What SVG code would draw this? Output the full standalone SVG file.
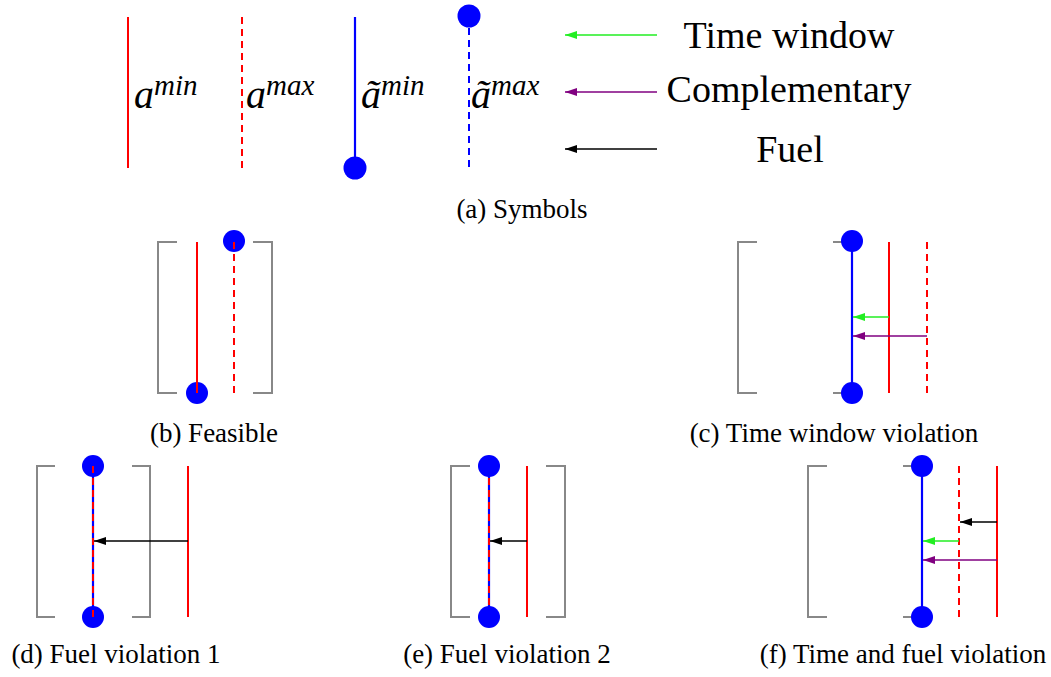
<svg xmlns="http://www.w3.org/2000/svg" width="1051" height="677" viewBox="0 0 1051 677">
<style>
.bg{fill:#fff}
.br{fill:none;stroke:#888;stroke-width:2}
.rs{stroke:#f00;stroke-width:2;fill:none}
.rd{stroke:#f00;stroke-width:2;stroke-dasharray:7 5;fill:none}
.bs{stroke:#00f;stroke-width:2.2;fill:none}
.bd{stroke:#00f;stroke-width:2;stroke-dasharray:7 5;fill:none}
.dot{fill:#00f}
.ag{stroke:#22ee22;stroke-width:1.4;marker-end:url(#mg)}
.ap{stroke:#800080;stroke-width:1.4;marker-end:url(#mp)}
.ak{stroke:#000;stroke-width:1.4;marker-end:url(#mk)}
</style>
<defs>
<marker id="mg" viewBox="0 0 12 8" markerUnits="userSpaceOnUse" markerWidth="12" markerHeight="8" refX="12" refY="4" orient="auto"><path d="M0,0 L12,4 L0,8 z" fill="#22ee22"/></marker>
<marker id="mp" viewBox="0 0 12 8" markerUnits="userSpaceOnUse" markerWidth="12" markerHeight="8" refX="12" refY="4" orient="auto"><path d="M0,0 L12,4 L0,8 z" fill="#800080"/></marker>
<marker id="mk" viewBox="0 0 12 8" markerUnits="userSpaceOnUse" markerWidth="12" markerHeight="8" refX="12" refY="4" orient="auto"><path d="M0,0 L12,4 L0,8 z" fill="#000"/></marker>
</defs>
<rect class="bg" x="0" y="0" width="1051" height="677"/>

<g id="panel-a">
  <g id="sym-amin">
    <line class="rs" x1="128" y1="17" x2="128" y2="168"/>
    <text x="134" y="108" font-family="Liberation Serif" font-style="italic" font-size="40">a<tspan font-size="29" dy="-13">min</tspan></text>
  </g>
  <g id="sym-amax">
    <line class="rd" x1="242" y1="17" x2="242" y2="168"/>
    <text x="246" y="108" font-family="Liberation Serif" font-style="italic" font-size="40">a<tspan font-size="29" dy="-13">max</tspan></text>
  </g>
  <g id="sym-atmin">
    <line class="bs" x1="355" y1="17" x2="355" y2="168"/>
    <circle class="dot" cx="355" cy="168" r="11.5"/>
    <text x="361" y="108" font-family="Liberation Serif" font-style="italic" font-size="40">ã<tspan font-size="29" dy="-13">min</tspan></text>
  </g>
  <g id="sym-atmax">
    <line class="bd" x1="469" y1="28" x2="469" y2="168"/>
    <circle class="dot" cx="469" cy="16" r="11.5"/>
    <text x="471" y="108" font-family="Liberation Serif" font-style="italic" font-size="40">ã<tspan font-size="29" dy="-13">max</tspan></text>
  </g>
  <g id="legend">
    <line class="ag" x1="657" y1="35" x2="565" y2="35"/>
    <text x="789" y="48" font-family="Liberation Serif" font-size="38" text-anchor="middle">Time window</text>
    <line class="ap" x1="657" y1="92" x2="565" y2="92"/>
    <text x="789" y="102" font-family="Liberation Serif" font-size="38" text-anchor="middle">Complementary</text>
    <line class="ak" x1="657" y1="149" x2="565" y2="149"/>
    <text x="790" y="162" font-family="Liberation Serif" font-size="38" text-anchor="middle">Fuel</text>
  </g>
  <text x="522" y="218" font-family="Liberation Serif" font-size="27" text-anchor="middle">(a) Symbols</text>
</g>

<g id="panel-b">
  <path class="br" d="M177,242 H158 V393 H177"/>
  <path class="br" d="M253,242 H272 V393 H253"/>
  <circle class="dot" cx="197" cy="393" r="11"/>
  <circle class="dot" cx="234" cy="241" r="11"/>
  <line class="rs" x1="197" y1="242" x2="197" y2="393"/>
  <line class="rd" x1="234" y1="242" x2="234" y2="393"/>
  <text x="214" y="442" font-family="Liberation Serif" font-size="27" text-anchor="middle">(b) Feasible</text>
</g>

<g id="panel-c">
  <path class="br" d="M757,242 H738 V393 H757"/>
  <path class="br" d="M833,242 H852 V393 H833"/>
  <line class="bs" x1="852" y1="241" x2="852" y2="393"/>
  <circle class="dot" cx="852" cy="241" r="11"/>
  <circle class="dot" cx="852" cy="393" r="11"/>
  <line class="rs" x1="889" y1="242" x2="889" y2="393"/>
  <line class="rd" x1="927" y1="242" x2="927" y2="393"/>
  <text x="834" y="442" font-family="Liberation Serif" font-size="27" text-anchor="middle">(c) Time window violation</text>
</g>

<g id="panel-d">
  <path class="br" d="M55,466 H37 V617 H55"/>
  <path class="br" d="M132,466 H150 V617 H132"/>
  <circle class="dot" cx="93" cy="466" r="11"/>
  <circle class="dot" cx="93" cy="617" r="11"/>
  <line class="bs" x1="93" y1="466" x2="93" y2="617"/>
  <line class="rd" x1="93" y1="466" x2="93" y2="617"/>
  <line class="rs" x1="188" y1="466" x2="188" y2="617"/>
  <text x="116" y="663" font-family="Liberation Serif" font-size="27" text-anchor="middle">(d) Fuel violation 1</text>
</g>

<g id="panel-e">
  <path class="br" d="M470,466 H451 V617 H470"/>
  <path class="br" d="M546,466 H565 V617 H546"/>
  <line class="bs" x1="489" y1="466" x2="489" y2="617"/>
  <line class="rd" x1="489" y1="466" x2="489" y2="617"/>
  <circle class="dot" cx="489" cy="466" r="11"/>
  <circle class="dot" cx="489" cy="617" r="11"/>
  <line class="rs" x1="527" y1="466" x2="527" y2="617"/>
  <text x="507" y="663" font-family="Liberation Serif" font-size="27" text-anchor="middle">(e) Fuel violation 2</text>
</g>

<g id="panel-f">
  <path class="br" d="M827,466 H808 V617 H827"/>
  <path class="br" d="M903,466 H922 V617 H903"/>
  <line class="bs" x1="922" y1="466" x2="922" y2="617"/>
  <circle class="dot" cx="922" cy="466" r="11"/>
  <circle class="dot" cx="922" cy="617" r="11"/>
  <line class="rd" x1="959" y1="466" x2="959" y2="617"/>
  <line class="rs" x1="997" y1="466" x2="997" y2="617"/>
  <text x="903" y="663" font-family="Liberation Serif" font-size="27" text-anchor="middle">(f) Time and fuel violation</text>
</g>

<g id="connectors">
  <line class="ag" x1="889" y1="317" x2="853" y2="317"/>
  <line class="ap" x1="927" y1="336" x2="853" y2="336"/>
  <line class="ak" x1="188" y1="541" x2="94" y2="541"/>
  <line class="ak" x1="527" y1="541" x2="490" y2="541"/>
  <line class="ak" x1="997" y1="522" x2="960" y2="522"/>
  <line class="ag" x1="959" y1="541" x2="923" y2="541"/>
  <line class="ap" x1="997" y1="560" x2="923" y2="560"/>
</g>
</svg>
